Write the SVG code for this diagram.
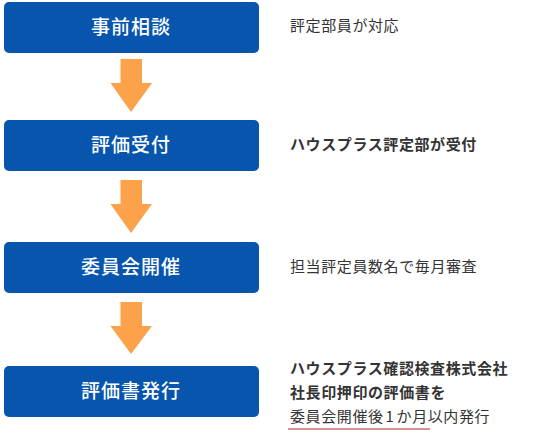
<svg xmlns="http://www.w3.org/2000/svg" width="534" height="434" viewBox="0 0 534 434">
<style>
.box{fill:#0755AD}
.bl{font-family:"Noto Sans CJK JP","Noto Sans",sans-serif;font-size:19px;font-weight:500;fill:#fff;text-anchor:middle;letter-spacing:1px}
.t{font-family:"Noto Sans CJK JP","Noto Sans",sans-serif;font-size:15px;fill:#333;letter-spacing:0.6px}
.b{font-weight:bold}
.arr{fill:#FBA24B}
</style>
<rect width="534" height="434" fill="#fff"/>
<g id="n1"><rect class="box" x="4" y="2" width="255" height="51" rx="5"/><text class="bl" x="131" y="34">事前相談</text></g>
<g id="n2"><rect class="box" x="4" y="120" width="255" height="51" rx="5"/><text class="bl" x="131" y="152">評価受付</text></g>
<g id="n3"><rect class="box" x="4" y="242" width="255" height="51" rx="5"/><text class="bl" x="131" y="274">委員会開催</text></g>
<g id="n4"><rect class="box" x="4" y="366" width="255" height="51" rx="5"/><text class="bl" x="131" y="398">評価書発行</text></g>
<g id="connectors">
<polygon class="arr" points="120.5,59 142,59 142,83 152,83 131,112 110.5,83 120.5,83"/>
<polygon class="arr" points="120.5,180 142,180 142,204 152,204 131,233 110.5,204 120.5,204"/>
<polygon class="arr" points="120.5,302 142,302 142,326 152,326 131,354 110.5,326 120.5,326"/>
</g>
<g id="notes">
<text class="t" x="290" y="31">評定部員が対応</text>
<text class="t b" x="290" y="150">ハウスプラス評定部が受付</text>
<text class="t" x="290" y="272">担当評定員数名で毎月審査</text>
<text class="t b" x="290" y="374">ハウスプラス確認検査株式会社</text>
<text class="t b" x="290" y="398">社長印押印の評価書を</text>
<text class="t" x="290" y="422">委員会開催後<tspan dx="2">1</tspan><tspan dx="2">か月以内発行</tspan></text>
<line x1="288" y1="429" x2="430" y2="429" stroke="#B2222A" stroke-width="1.2"/>
</g>
</svg>
